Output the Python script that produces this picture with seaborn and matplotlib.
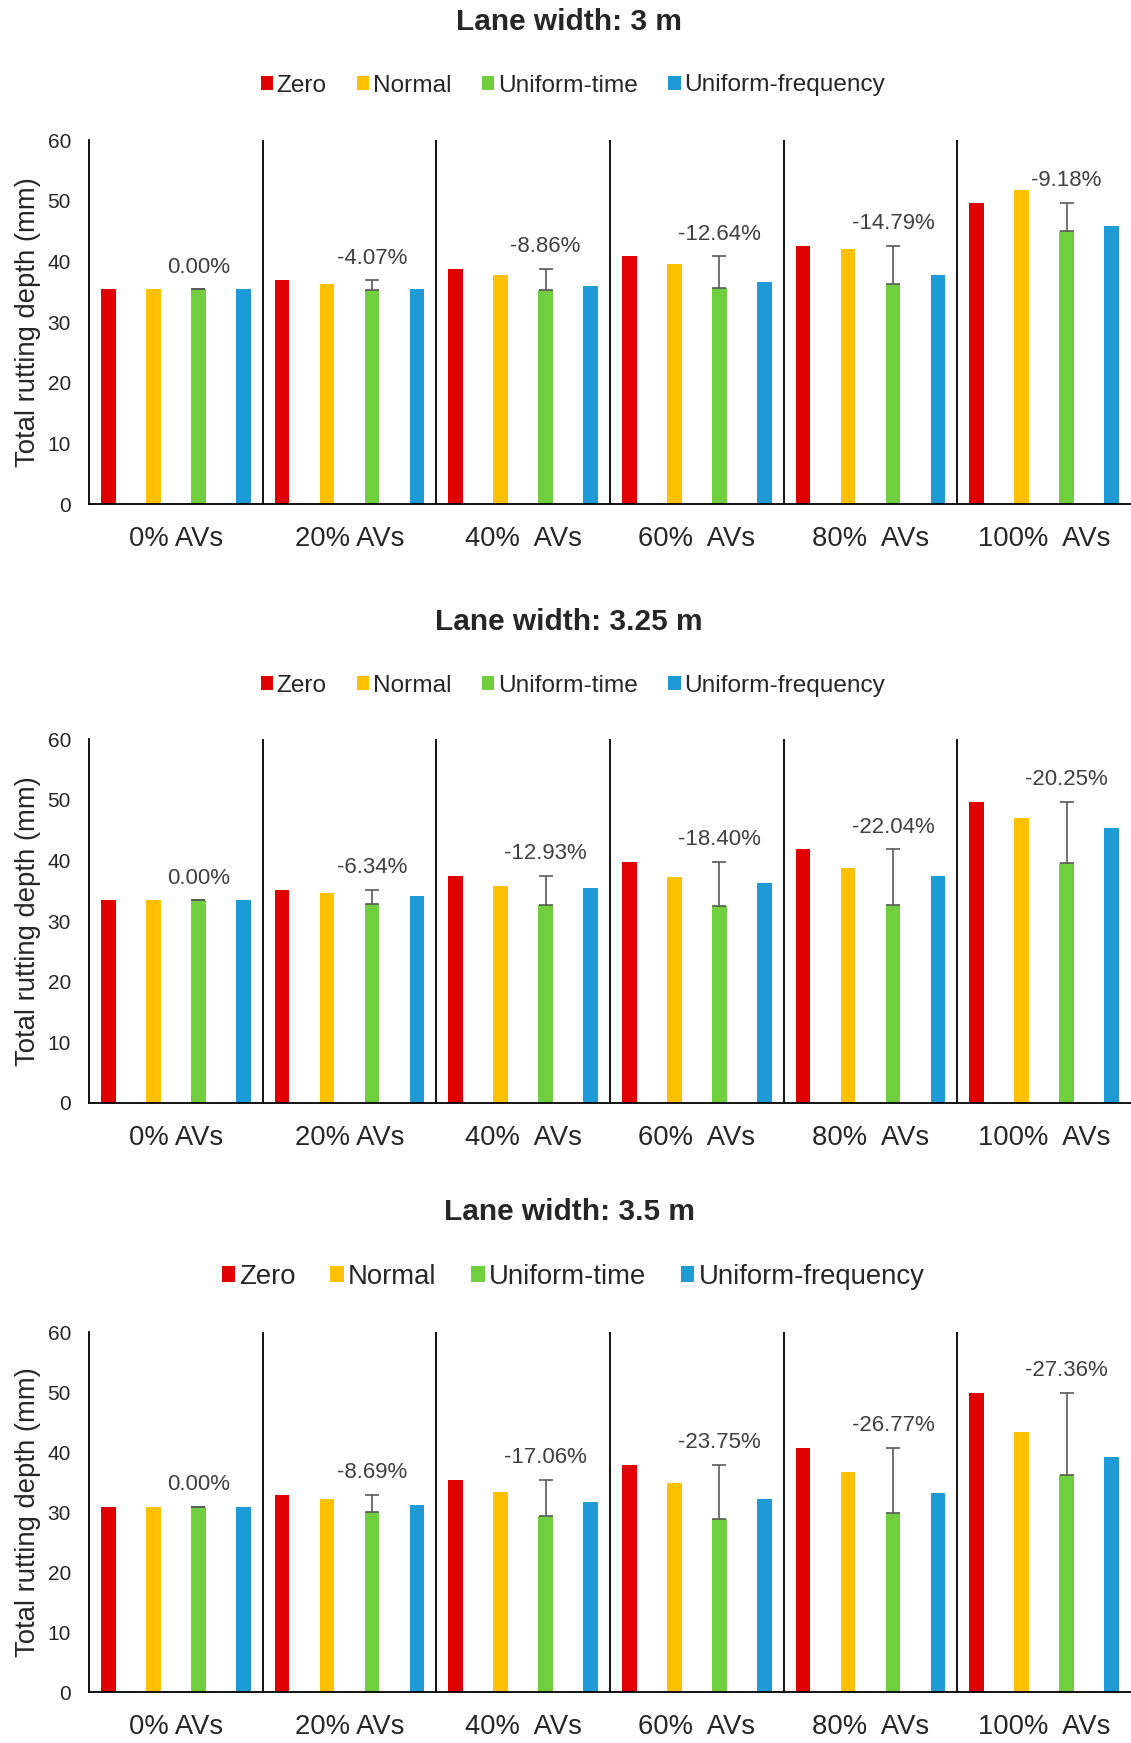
import numpy as np
import pandas as pd
import matplotlib
matplotlib.use("Agg")
import matplotlib.pyplot as plt
from matplotlib.patches import Patch
import seaborn as sns

# ---- data -------------------------------------------------------------
groups = ["0% AVs", "20% AVs", "40%  AVs", "60%  AVs", "80%  AVs", "100%  AVs"]
scenarios = ["Zero", "Normal", "Uniform-time", "Uniform-frequency"]
colors = ["#E00000", "#FFC000", "#6FCF3F", "#1E9BD7"]

# Lane width 3 m
zero_300 = [35.4, 36.85, 38.7, 40.8, 42.6, 49.6]
normal_300 = [35.4, 36.3, 37.8, 39.6, 42.0, 51.7]
utime_300 = [35.4, 35.35, 35.27, 35.64, 36.3, 45.05]
ufreq_300 = [35.4, 35.4, 36.0, 36.6, 37.8, 45.9]
change_300 = ["0.00%", "-4.07%", "-8.86%", "-12.64%", "-14.79%", "-9.18%"]

# Lane width 3.25 m
zero_325 = [33.4, 35.1, 37.5, 39.7, 41.8, 49.6]
normal_325 = [33.4, 34.55, 35.8, 37.3, 38.7, 46.9]
utime_325 = [33.4, 32.88, 32.65, 32.4, 32.59, 39.56]
ufreq_325 = [33.4, 34.2, 35.5, 36.3, 37.5, 45.4]
change_325 = ["0.00%", "-6.34%", "-12.93%", "-18.40%", "-22.04%", "-20.25%"]

# Lane width 3.5 m
zero_350 = [30.9, 32.85, 35.4, 37.9, 40.7, 49.8]
normal_350 = [30.9, 32.1, 33.4, 34.9, 36.7, 43.4]
utime_350 = [30.9, 30.0, 29.36, 28.9, 29.8, 36.17]
ufreq_350 = [30.9, 31.2, 31.6, 32.1, 33.1, 39.2]
change_350 = ["0.00%", "-8.69%", "-17.06%", "-23.75%", "-26.77%", "-27.36%"]

titles = ["Lane width: 3 m", "Lane width: 3.25 m", "Lane width: 3.5 m"]
panel_data = [
    (zero_300, normal_300, utime_300, ufreq_300, change_300),
    (zero_325, normal_325, utime_325, ufreq_325, change_325),
    (zero_350, normal_350, utime_350, ufreq_350, change_350),
]

# ---- style ------------------------------------------------------------
sns.set_theme(style="white")
plt.rcParams["font.family"] = ["Liberation Sans", "DejaVu Sans"]

W, H = 1131, 1743
fig = plt.figure(figsize=(W / 100, H / 100), dpi=100, facecolor="white")


def fx(px):
    return px / W


def fy(px):
    return 1 - px / H


# pixel layout of each panel: axes top, axes bottom, title y, legend y, legend size
layout = [
    (140, 504, 22.5, 85.5, 17.6),
    (739, 1103, 621.5, 685.5, 17.6),
    (1332, 1692, 1212.5, 1276.5, 19.8),
]
ax_left, ax_right = 89, 1131

for title, (zero, normal, utime, ufreq, change), (top, bot, ty, ly, lfs) in zip(
    titles, panel_data, layout
):
    values = [zero, normal, utime, ufreq]
    df = pd.DataFrame(
        {
            "group": [g for _ in scenarios for g in groups],
            "scenario": [s for s in scenarios for _ in groups],
            "depth": [v for vals in values for v in vals],
        }
    )

    ax = fig.add_axes([fx(ax_left), fy(bot), (ax_right - ax_left) / W, (bot - top) / H])
    sns.barplot(
        data=df, x="group", y="depth", hue="scenario",
        order=groups, hue_order=scenarios, palette=colors, saturation=1,
        width=1.036, gap=0.67, linewidth=0, errorbar=None,
        legend=False, ax=ax,
    )

    ax.set_xlim(-0.5, 5.5)
    ax.set_ylim(0, 60)
    ax.set_yticks(range(0, 61, 10))
    ax.tick_params(axis="y", labelsize=15, length=0, pad=13)
    ax.tick_params(axis="x", labelsize=19.7, length=0, pad=16)
    ax.set_xlabel("")
    ax.set_ylabel("Total rutting depth (mm)", fontsize=19.8, labelpad=5)
    for side in ["top", "right"]:
        ax.spines[side].set_visible(False)
    for side in ["left", "bottom"]:
        ax.spines[side].set_color("black")
        ax.spines[side].set_linewidth(1.3)
    for b in np.arange(0.5, 5.5, 1.0):
        ax.axvline(b, color="black", lw=1.3)

    # range between the Zero and Uniform-time scenario, with the relative change
    green_bars = ax.containers[scenarios.index("Uniform-time")]
    for patch, g, z, lab in zip(green_bars, utime, zero, change):
        x = patch.get_x() + patch.get_width() / 2
        ax.errorbar(
            x, g, yerr=[[0], [z - g]], fmt="none", ecolor="#595959",
            elinewidth=1.2, capsize=5, capthick=1.2, zorder=3,
        )
        ax.annotate(
            lab, (x, z), xytext=(0, 16), textcoords="offset points",
            ha="center", va="center", fontsize=16, color="#404040",
        )

    handles = [Patch(facecolor=c, edgecolor="none") for c in colors]
    ax.legend(
        handles, scenarios, loc="center", bbox_to_anchor=(fx(573), fy(ly)),
        bbox_transform=fig.transFigure, ncol=4, frameon=False, fontsize=lfs,
        handlelength=0.5, handleheight=0.5, handletextpad=0.15, columnspacing=1.25,
    )

    fig.text(fx(569), fy(ty), title, ha="center", va="center",
             fontsize=21.5, fontweight="bold")

fig.savefig("out.png", dpi=100, facecolor="white")
